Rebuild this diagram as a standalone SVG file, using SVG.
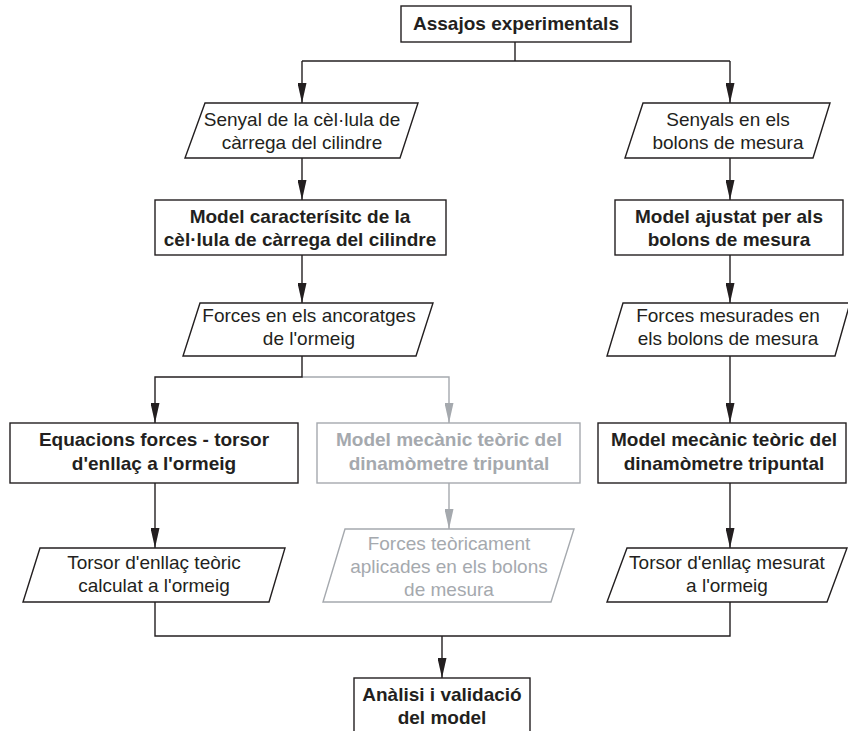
<svg xmlns="http://www.w3.org/2000/svg" width="848" height="731" viewBox="0 0 848 731">
  <style>
    .box { fill: #ffffff; stroke: #231f20; stroke-width: 1.4; }
    .box.dim { stroke: #a5a9ae; }
    .t { font-family: "Liberation Sans", Arial, sans-serif; font-size: 19px; fill: #231f20; text-anchor: middle; }
    .t.b { font-weight: bold; }
    .t.dim { fill: #a5a9ae; }
    .wire { fill: none; stroke: #231f20; stroke-width: 1.4; }
    .wire.dim { stroke: #a5a9ae; }
  </style>
  <defs>
    <marker id="arrow" markerUnits="userSpaceOnUse" markerWidth="20" markerHeight="9" refX="20" refY="4.5" orient="auto">
      <path d="M0,0 L20,4.5 L0,9 Z" fill="#231f20"/>
    </marker>
    <marker id="arrow-dim" markerUnits="userSpaceOnUse" markerWidth="20" markerHeight="9" refX="20" refY="4.5" orient="auto">
      <path d="M0,0 L20,4.5 L0,9 Z" fill="#a5a9ae"/>
    </marker>
  </defs>

  <rect width="848" height="731" fill="#ffffff"/>

  <!-- connectors -->
  <g id="connectors">
    <path class="wire" d="M515,42 V61"/>
    <path class="wire" d="M302,61 H730"/>
    <path class="wire" marker-end="url(#arrow)" d="M302,61 V103"/>
    <path class="wire" marker-end="url(#arrow)" d="M730,61 V103"/>
    <path class="wire" marker-end="url(#arrow)" d="M302,158 V200"/>
    <path class="wire" marker-end="url(#arrow)" d="M730,158 V200"/>
    <path class="wire" marker-end="url(#arrow)" d="M302,255 V303"/>
    <path class="wire" marker-end="url(#arrow)" d="M730,255 V303"/>
    <path class="wire dim" marker-end="url(#arrow-dim)" d="M302,377 H449 V423"/>
    <path class="wire" marker-end="url(#arrow)" d="M302,356 V377 H155 V423"/>
    <path class="wire" marker-end="url(#arrow)" d="M730,356 V423"/>
    <path class="wire" marker-end="url(#arrow)" d="M155,483 V548"/>
    <path class="wire dim" marker-end="url(#arrow-dim)" d="M449,483 V529"/>
    <path class="wire" marker-end="url(#arrow)" d="M730,483 V548"/>
    <path class="wire" d="M155,602 V636 H730 V602"/>
    <path class="wire" marker-end="url(#arrow)" d="M442,636 V678"/>
  </g>

  <!-- process and data nodes -->
  <g id="assajos">
    <rect class="box" x="401" y="6" width="230" height="36"/>
    <text class="t b" x="516" y="30">Assajos experimentals</text>
  </g>

  <g id="senyal-cilindre">
    <polygon class="box" points="205,103 418,103 400,158 185,158"/>
    <text class="t" x="302" y="126">Senyal de la cèl·lula de</text>
    <text class="t" x="302" y="149">càrrega del cilindre</text>
  </g>

  <g id="senyals-bolons">
    <polygon class="box" points="643,103 830,103 813,158 625,158"/>
    <text class="t" x="728" y="126">Senyals en els</text>
    <text class="t" x="728" y="149">bolons de mesura</text>
  </g>

  <g id="model-cilindre">
    <rect class="box" x="155" y="200" width="291" height="55"/>
    <text class="t b" x="300" y="223">Model caracterísitc de la</text>
    <text class="t b" x="300" y="246">cèl·lula de càrrega del cilindre</text>
  </g>

  <g id="model-bolons">
    <rect class="box" x="615" y="200" width="228" height="55"/>
    <text class="t b" x="729" y="223">Model ajustat per als</text>
    <text class="t b" x="729" y="246">bolons de mesura</text>
  </g>

  <g id="forces-ancoratges">
    <polygon class="box" points="200,303 433,303 416,356 183,356"/>
    <text class="t" x="309" y="322">Forces en els ancoratges</text>
    <text class="t" x="309" y="345">de l'ormeig</text>
  </g>

  <g id="forces-mesurades">
    <polygon class="box" points="623,303 850,303 835,356 607,356"/>
    <text class="t" x="728" y="322">Forces mesurades en</text>
    <text class="t" x="728" y="345">els bolons de mesura</text>
  </g>

  <g id="equacions">
    <rect class="box" x="10" y="423" width="288" height="60"/>
    <text class="t b" x="154" y="446">Equacions forces - torsor</text>
    <text class="t b" x="154" y="470">d'enllaç a l'ormeig</text>
  </g>

  <g id="model-teoric-dim">
    <rect class="box dim" x="317" y="423" width="263" height="60"/>
    <text class="t b dim" x="449" y="446">Model mecànic teòric del</text>
    <text class="t b dim" x="449" y="470">dinamòmetre tripuntal</text>
  </g>

  <g id="model-teoric">
    <rect class="box" x="598" y="423" width="248" height="60"/>
    <text class="t b" x="724" y="446">Model mecànic teòric del</text>
    <text class="t b" x="724" y="470">dinamòmetre tripuntal</text>
  </g>

  <g id="torsor-teoric">
    <polygon class="box" points="40,548 285,548 269,602 23,602"/>
    <text class="t" x="154" y="569">Torsor d'enllaç teòric</text>
    <text class="t" x="154" y="592">calculat a l'ormeig</text>
  </g>

  <g id="forces-teoriques-dim">
    <polygon class="box dim" points="345,529 574,529 551,602 323,602"/>
    <text class="t dim" x="449" y="550">Forces teòricament</text>
    <text class="t dim" x="449" y="573">aplicades en els bolons</text>
    <text class="t dim" x="449" y="596">de mesura</text>
  </g>

  <g id="torsor-mesurat">
    <polygon class="box" points="627,548 847,548 827,602 607,602"/>
    <text class="t" x="727" y="569">Torsor d'enllaç mesurat</text>
    <text class="t" x="727" y="592">a l'ormeig</text>
  </g>

  <g id="analisi">
    <rect class="box" x="354" y="678" width="176" height="62"/>
    <text class="t b" x="442" y="701">Anàlisi i validació</text>
    <text class="t b" x="442" y="724">del model</text>
  </g>
</svg>
